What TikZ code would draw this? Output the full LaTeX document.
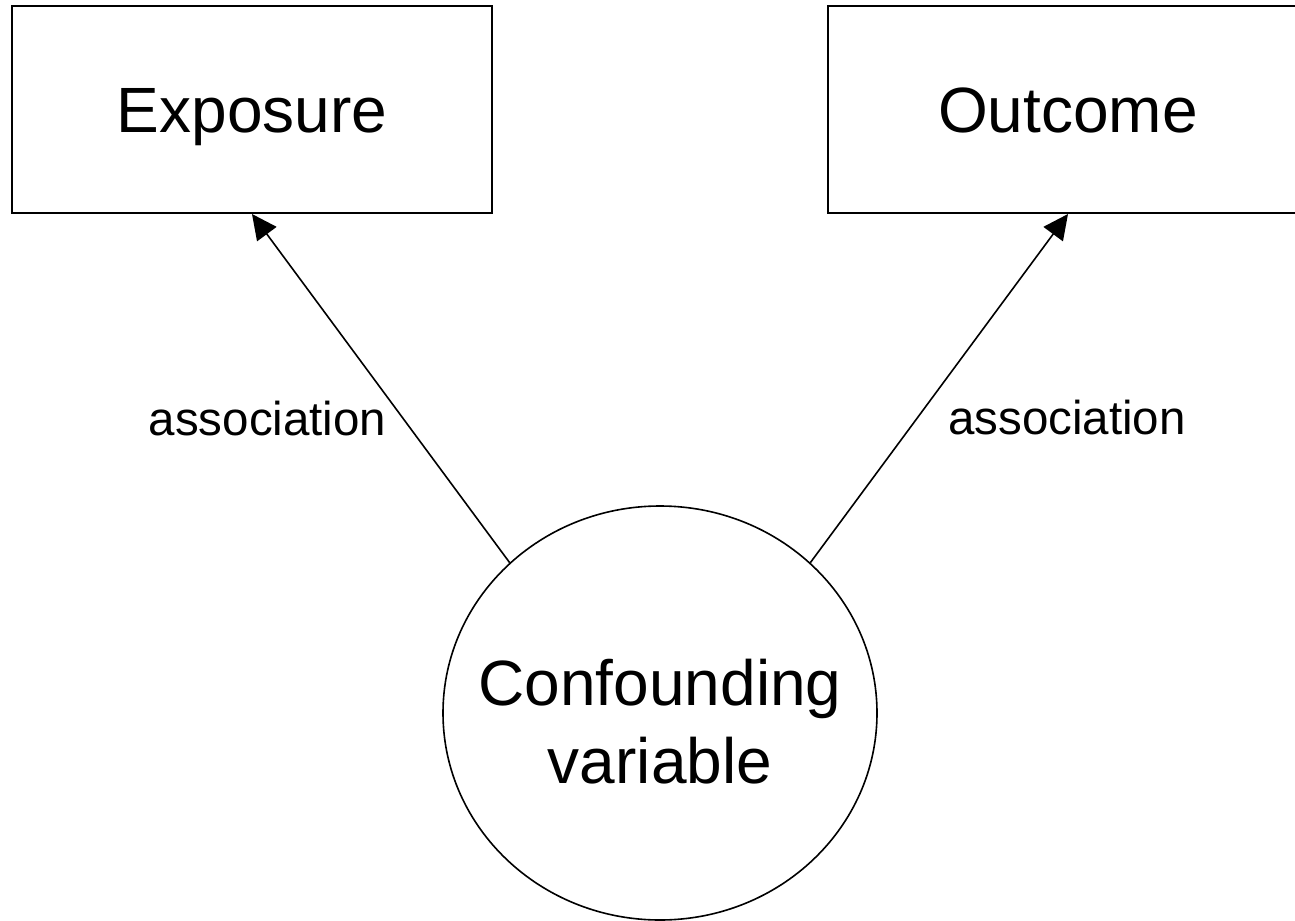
\documentclass[tikz,border=0pt]{standalone}
\usepackage{fontspec}
\setmainfont{Liberation Sans}
\usetikzlibrary{shapes.geometric,arrows.meta}

\begin{document}
\begin{tikzpicture}[x=1bp,y=-1bp,
  bigtext/.style={font=\fontsize{64bp}{78bp}\selectfont},
  smalltext/.style={font=\fontsize{47.5bp}{57bp}\selectfont},
  varbox/.style={draw, line width=2bp, rectangle, inner sep=0pt,
    minimum width=480bp, minimum height=207bp, bigtext,
    text height=46bp, text depth=0pt},
  confshape/.style={draw, line width=1.6bp, ellipse, inner sep=0pt,
    minimum width=434bp, minimum height=414bp},
  assoc/.style={line width=1.6bp, -{Triangle[length=25bp,width=24bp]}},
  lbl/.style={smalltext, inner sep=0pt, anchor=base}
]
\useasboundingbox (0,0) rectangle (1295,921);
\clip (0,0) rectangle (1295,921);

% the two measured variables
\node[varbox] (expo) at (252,109.5) {Exposure};
\node[varbox] (outc) at (1068,109.5) {Outcome};

% the third variable linked to both
\node[confshape] (conf) at (660,713) {};
\node[bigtext, inner sep=0pt, anchor=base] (conflabel) at (660,705)
  {\parbox[t]{420bp}{\centering Confounding\\variable}};

% associations
\draw[assoc] (conf.135) -- (expo.south);
\draw[assoc] (conf.45) -- (outc.south);

\node[lbl] (assocl) at (267.5,435) {association};
\node[lbl] (assocr) at (1067,434) {association};
\end{tikzpicture}
\end{document}
